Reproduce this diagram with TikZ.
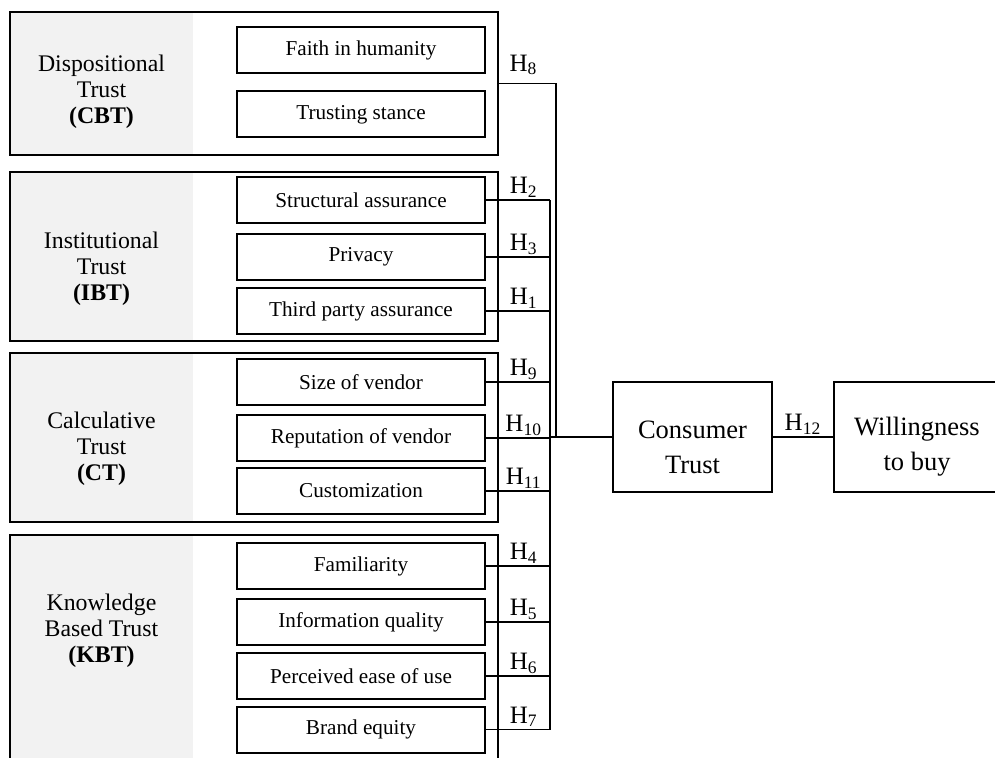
\documentclass[tikz,border=0pt]{standalone}
\usepackage{fontspec}
\setmainfont{Liberation Serif}
\usetikzlibrary{positioning,calc}
\definecolor{ink}  {HTML}{000000}
\definecolor{panel}{HTML}{F2F2F2}
\tikzset{
  % --- nodes
  grp/.style  = {draw=ink, line width=1pt, minimum width=244pt, inner sep=0pt,
                 path picture={\fill[panel] (path picture bounding box.south west)
                   rectangle ([xshift=91.5pt]path picture bounding box.north west);}},
  item/.style = {draw=ink, line width=1pt, fill=white, minimum width=124pt,
                 minimum height=23pt, inner sep=0pt, font=\fontsize{10.6}{12}\selectfont},
  glbl/.style = {align=center, inner sep=0pt, font=\fontsize{11.9}{13}\selectfont},
  big/.style  = {draw=ink, line width=1pt, minimum height=55pt},
  btxt/.style = {align=center, yshift=-5pt, font=\fontsize{13.25}{17.5}\selectfont},
  hlab/.style = {anchor=south, inner sep=1pt, font=\fontsize{12.5}{14}\selectfont},
  % --- edges
  link/.style = {draw=ink, line width=0.7pt},
  trunk/.style= {draw=ink, line width=1pt},
}

\begin{document}
\begin{tikzpicture}[x=0.5pt, y=-0.5pt]
  \clip (0,0) rectangle (995,758);

  % trust groups
  \node[grp, minimum height=71.5pt]  (g1) at (254,83.5)  {};
  \node[grp, minimum height=84.5pt]  (g2) at (254,256.5) {};
  \node[grp, minimum height=84.5pt]  (g3) at (254,437.5) {};
  \node[grp, minimum height=117.5pt] (g4) at (254,652.5) {};

  \node[glbl] (l1) at (101.5,92)  {Dispositional\\Trust\\\textbf{(CBT)}};
  \node[glbl] (l2) at (101.5,269) {Institutional\\Trust\\\textbf{(IBT)}};
  \node[glbl] (l3) at (101.5,449) {Calculative\\Trust\\\textbf{(CT)}};
  \node[glbl] (l4) at (101.5,631) {Knowledge\\Based Trust\\\textbf{(KBT)}};

  % antecedents
  \node[item] (fh) at (361,50)    {Faith in humanity};
  \node[item] (ts) at (361,114.5) {Trusting stance};
  \node[item] (sa) at (361,200)   {Structural assurance};
  \node[item] (pr) at (361,257)   {Privacy};
  \node[item] (tp) at (361,311)   {Third party assurance};
  \node[item] (sv) at (361,382)   {Size of vendor};
  \node[item] (rv) at (361,438)   {Reputation of vendor};
  \node[item] (cu) at (361,491)   {Customization};
  \node[item] (fa) at (361,566)   {Familiarity};
  \node[item] (iq) at (361,622)   {Information quality};
  \node[item] (pe) at (361,676)   {Perceived ease of use};
  \node[item] (be) at (361,729.5) {Brand equity};

  % outcomes
  \node[big, minimum width=79.5pt, label={[btxt]center:Consumer\\Trust}]   (ct) at (692.5,437) {};
  \node[big, minimum width=83pt, label={[btxt]center:Willingness\\to buy}] (wb) at (917,437)   {};

  % bus
  \coordinate (bt) at ($(sa.east)+(64,0)$);
  \coordinate (bb) at ($(be.east)+(64,0)$);
  \coordinate (j8) at (556,437);
  \draw[link] (bt) -- (bb);
  \foreach \n/\h in {sa/2, pr/3, tp/1, sv/9, rv/10, cu/11, fa/4, iq/5, pe/6, be/7}
    \draw[link] (\n.east) -- (\n.east -| bt) node[hlab, pos=0.59] {H\textsubscript{\h}};

  \draw[link] (g1.east) -- (g1.east -| j8) node[hlab, pos=0.43, yshift=3pt] {H\textsubscript{8}}
    -- (j8) -- (ct.west);
  \draw[trunk] (bt |- ct.west) -- (ct.west);
  \draw[link] (ct.east) -- (wb.west) node[hlab, midway] {H\textsubscript{12}};
\end{tikzpicture}
\end{document}
